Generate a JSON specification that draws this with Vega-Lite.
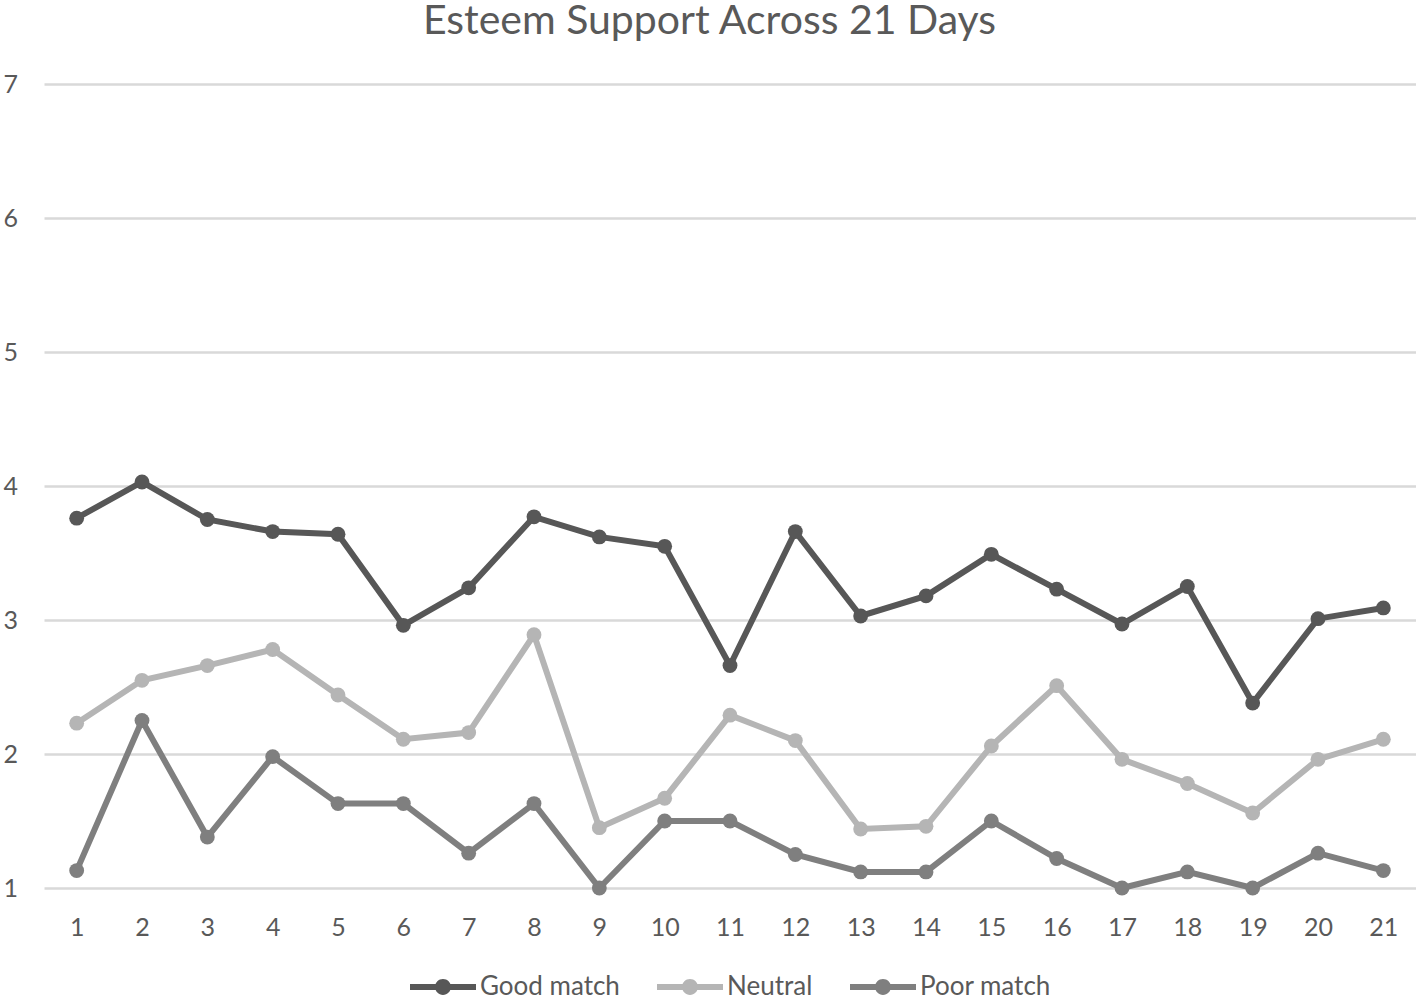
{
  "$schema": "https://vega.github.io/schema/vega-lite/v6.json",
  "width": 1372,
  "height": 804,
  "autosize": {"type": "none"},
  "padding": {"left": 44, "top": 84, "right": 0, "bottom": 116},
  "background": "white",
  "title": {
    "text": "Esteem Support Across 21 Days",
    "frame": "bounds",
    "anchor": "middle",
    "font": "Lato",
    "fontSize": 41,
    "fontWeight": "normal",
    "color": "#595959",
    "offset": 29
  },
  "config": {
    "view": {"stroke": null},
    "font": "Lato",
    "legend": {"layout": {"bottom": {"anchor": "middle"}}}
  },
  "data": {
    "values": [
      {"day": 1, "group": "Good match", "value": 3.76},
      {"day": 2, "group": "Good match", "value": 4.03},
      {"day": 3, "group": "Good match", "value": 3.75},
      {"day": 4, "group": "Good match", "value": 3.66},
      {"day": 5, "group": "Good match", "value": 3.64},
      {"day": 6, "group": "Good match", "value": 2.96},
      {"day": 7, "group": "Good match", "value": 3.24},
      {"day": 8, "group": "Good match", "value": 3.77},
      {"day": 9, "group": "Good match", "value": 3.62},
      {"day": 10, "group": "Good match", "value": 3.55},
      {"day": 11, "group": "Good match", "value": 2.66},
      {"day": 12, "group": "Good match", "value": 3.66},
      {"day": 13, "group": "Good match", "value": 3.03},
      {"day": 14, "group": "Good match", "value": 3.18},
      {"day": 15, "group": "Good match", "value": 3.49},
      {"day": 16, "group": "Good match", "value": 3.23},
      {"day": 17, "group": "Good match", "value": 2.97},
      {"day": 18, "group": "Good match", "value": 3.25},
      {"day": 19, "group": "Good match", "value": 2.38},
      {"day": 20, "group": "Good match", "value": 3.01},
      {"day": 21, "group": "Good match", "value": 3.09},
      {"day": 1, "group": "Neutral", "value": 2.23},
      {"day": 2, "group": "Neutral", "value": 2.55},
      {"day": 3, "group": "Neutral", "value": 2.66},
      {"day": 4, "group": "Neutral", "value": 2.78},
      {"day": 5, "group": "Neutral", "value": 2.44},
      {"day": 6, "group": "Neutral", "value": 2.11},
      {"day": 7, "group": "Neutral", "value": 2.16},
      {"day": 8, "group": "Neutral", "value": 2.89},
      {"day": 9, "group": "Neutral", "value": 1.45},
      {"day": 10, "group": "Neutral", "value": 1.67},
      {"day": 11, "group": "Neutral", "value": 2.29},
      {"day": 12, "group": "Neutral", "value": 2.10},
      {"day": 13, "group": "Neutral", "value": 1.44},
      {"day": 14, "group": "Neutral", "value": 1.46},
      {"day": 15, "group": "Neutral", "value": 2.06},
      {"day": 16, "group": "Neutral", "value": 2.51},
      {"day": 17, "group": "Neutral", "value": 1.96},
      {"day": 18, "group": "Neutral", "value": 1.78},
      {"day": 19, "group": "Neutral", "value": 1.56},
      {"day": 20, "group": "Neutral", "value": 1.96},
      {"day": 21, "group": "Neutral", "value": 2.11},
      {"day": 1, "group": "Poor match", "value": 1.13},
      {"day": 2, "group": "Poor match", "value": 2.25},
      {"day": 3, "group": "Poor match", "value": 1.38},
      {"day": 4, "group": "Poor match", "value": 1.98},
      {"day": 5, "group": "Poor match", "value": 1.63},
      {"day": 6, "group": "Poor match", "value": 1.63},
      {"day": 7, "group": "Poor match", "value": 1.26},
      {"day": 8, "group": "Poor match", "value": 1.63},
      {"day": 9, "group": "Poor match", "value": 1.0},
      {"day": 10, "group": "Poor match", "value": 1.5},
      {"day": 11, "group": "Poor match", "value": 1.5},
      {"day": 12, "group": "Poor match", "value": 1.25},
      {"day": 13, "group": "Poor match", "value": 1.12},
      {"day": 14, "group": "Poor match", "value": 1.12},
      {"day": 15, "group": "Poor match", "value": 1.5},
      {"day": 16, "group": "Poor match", "value": 1.22},
      {"day": 17, "group": "Poor match", "value": 1.0},
      {"day": 18, "group": "Poor match", "value": 1.12},
      {"day": 19, "group": "Poor match", "value": 1.0},
      {"day": 20, "group": "Poor match", "value": 1.26},
      {"day": 21, "group": "Poor match", "value": 1.13}
    ]
  },
  "encoding": {
    "x": {
      "field": "day",
      "type": "ordinal",
      "scale": {"type": "point", "padding": 0.5},
      "axis": {
        "title": null,
        "labelAngle": 0,
        "labelFontSize": 25,
        "labelColor": "#595959",
        "labelPadding": 27,
        "domain": false,
        "ticks": false,
        "grid": false
      }
    },
    "y": {
      "field": "value",
      "type": "quantitative",
      "scale": {"domain": [1, 7], "nice": false, "zero": false},
      "axis": {
        "title": null,
        "values": [1, 2, 3, 4, 5, 6, 7],
        "labelFontSize": 25,
        "labelColor": "#595959",
        "labelPadding": 41,
        "labelAlign": "left",
        "labelFlush": false,
        "domain": false,
        "ticks": false,
        "grid": true,
        "gridColor": "#d9d9d9",
        "gridWidth": 2.5
      }
    },
    "color": {
      "field": "group",
      "type": "nominal",
      "scale": {
        "domain": ["Good match", "Neutral", "Poor match"],
        "range": ["#575757", "#b5b5b5", "#7f7f7f"]
      },
      "legend": {
        "title": null,
        "orient": "bottom",
        "direction": "horizontal",
        "labelFontSize": 26,
        "labelColor": "#595959",
        "labelOffset": 4,
        "columnPadding": 37,
        "symbolType": "M-1,-0.09 L1,-0.09 L1,0.09 L-1,0.09 Z M0.24,0 A0.24,0.24 0 1,1 -0.24,0 A0.24,0.24 0 1,1 0.24,0 Z",
        "symbolSize": 4356,
        "symbolStrokeWidth": 0,
        "symbolOpacity": 1,
        "offset": 14
      }
    }
  },
  "layer": [
    {
      "mark": {"type": "line", "strokeWidth": 6}
    },
    {
      "mark": {"type": "point", "filled": true, "size": 220, "opacity": 1}
    }
  ]
}
